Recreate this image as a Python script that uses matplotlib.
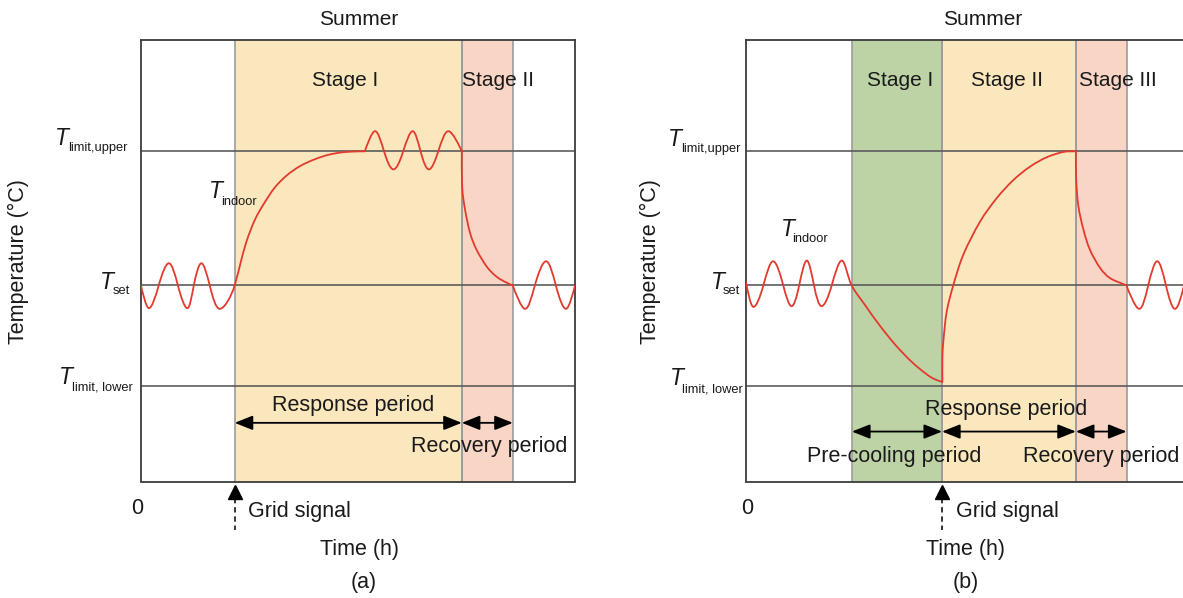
import numpy as np
import matplotlib
matplotlib.use('Agg')
import matplotlib.pyplot as plt
import matplotlib.transforms as mtransforms
from matplotlib.path import Path
from matplotlib.patches import PathPatch

plt.rcParams['font.family'] = ['Liberation Sans', 'DejaVu Sans']

# temperature levels (degC) and time axis (h)
T_UPPER = 28.0
T_SET = 26.0
T_LOWER = 24.5
Y_RANGE = (23.075, 29.66)

# (a) stages: start, end, colour
STAGES_A = [(2.59, 8.87, '#fbe7bd'), (8.87, 10.28, '#f8d5c5')]
SIGNAL_A = 2.59
# (b) stages
STAGES_B = [(2.93, 5.42, '#bdd3a6'), (5.42, 9.12, '#fbe7bd'), (9.12, 10.52, '#f8d5c5')]
SIGNAL_B = 5.42

# indoor temperature, (time, temperature)
A_OSC_START = [(0.00, 26.00), (0.22, 25.66), (0.49, 26.00), (0.77, 26.33), (1.02, 26.00),
               (1.28, 25.66), (1.46, 26.00), (1.67, 26.33), (1.90, 26.00), (2.18, 25.65),
               (2.59, 26.00)]
A_RISE = [(2.75, 26.33), (2.92, 26.66), (3.15, 26.98), (3.40, 27.22), (3.70, 27.46),
          (4.03, 27.64), (4.40, 27.78), (4.80, 27.88), (5.20, 27.95), (5.65, 27.99),
          (6.19, 28.00)]
A_UPPER_OSC = [(6.19, 28.00), (6.47, 28.30), (6.72, 28.00), (6.98, 27.73), (7.25, 28.00),
               (7.51, 28.30), (7.73, 28.00), (7.96, 27.73), (8.22, 28.00), (8.50, 28.30),
               (8.87, 28.00)]
A_DECAY = [(8.87, 28.00), (8.88, 27.47), (8.96, 27.13), (9.10, 26.78), (9.28, 26.53),
           (9.56, 26.28), (9.83, 26.13), (10.11, 26.04), (10.28, 26.00)]
A_OSC_END = [(10.28, 26.00), (10.62, 25.65), (10.89, 26.00), (11.20, 26.36), (11.47, 26.00),
             (11.75, 25.65), (12.00, 26.00)]

B_OSC_START = [(0.00, 26.05), (0.20, 25.68), (0.48, 26.00), (0.75, 26.36), (1.03, 26.00),
               (1.26, 25.69), (1.47, 26.00), (1.68, 26.37), (1.88, 26.00), (2.09, 25.69),
               (2.37, 26.00), (2.65, 26.37)]
B_PRECOOL = [(2.92, 26.00), (3.30, 25.70), (3.70, 25.40), (4.15, 25.10), (4.60, 24.85),
             (4.98, 24.68), (5.18, 24.61), (5.37, 24.57), (5.42, 24.56)]
B_RISE = [(5.43, 24.56), (5.43, 24.92), (5.46, 25.19), (5.55, 25.61), (5.73, 26.00),
          (6.01, 26.46), (6.47, 26.95), (6.93, 27.30), (7.39, 27.57), (7.85, 27.77),
          (8.31, 27.91), (8.77, 27.99), (9.12, 28.00)]
B_DECAY = [(9.12, 28.00), (9.13, 27.57), (9.19, 27.18), (9.33, 26.83), (9.51, 26.53),
           (9.79, 26.26), (10.06, 26.11), (10.43, 26.02), (10.52, 26.00)]
B_OSC_END = [(10.52, 26.00), (10.87, 25.65), (11.12, 26.00), (11.37, 26.36), (11.61, 26.00),
             (11.86, 25.65), (12.11, 26.00), (12.36, 26.36)]

W, H = 1183, 598
fig = plt.figure(figsize=(W / 100, H / 100), dpi=100)
TXT = '#1a1a1a'
RED = '#e23a2e'
WAVE, CURVE = 1.55, 1.0   # vertical tangent factor for wavy / smooth parts


def px_axes(x0, x1, y0, y1):
    return fig.add_axes([x0 / W, 1 - y1 / H, (x1 - x0) / W, (y1 - y0) / H])


def ftext(x, y, s, size=15.5, ha='center', **kw):
    fig.text(x / W, 1 - y / H, s, fontsize=size, ha=ha, va='baseline', color=TXT, **kw)


def tlabel(x, y, sub, xs, ys):
    # italic T plus a small subscript
    ftext(x, y, 'T', size=16.5, ha='left', style='italic')
    ftext(xs, ys, sub, size=9.3, ha='left')


def smooth(parts):
    # catmull-rom through the read points, drawn as cubic bezier
    pts, ty = [], []
    for points, k in parts:
        pts += points
        ty += [k] * len(points)
    p = np.array(pts, dtype=float)
    n = len(p)
    verts = [p[0]]
    codes = [Path.MOVETO]
    for i in range(n - 1):
        p0 = p[max(i - 1, 0)]
        p1 = p[i]
        p2 = p[i + 1]
        p3 = p[min(i + 2, n - 1)]
        t1 = (p2 - p0) / 6 * np.array([1.0, ty[i]])
        t2 = (p3 - p1) / 6 * np.array([1.0, ty[i + 1]])
        verts += [p1 + t1, p2 - t2, p2]
        codes += [Path.CURVE4] * 3
    return Path(verts, codes)


def setup(ax, xmax, stages, pieces, signal):
    ax.set_xlim(0, xmax)
    ax.set_ylim(*Y_RANGE)
    ax.set_xticks([])
    ax.set_yticks([])
    for s in ax.spines.values():
        s.set_color('#3c3c3c')
        s.set_linewidth(1.3)
    for a, b, c in stages:
        ax.axvspan(a, b, color=c, lw=0, zorder=0)
        ax.axvline(a, color='#9c9c9c', lw=1.2, zorder=1)
        ax.axvline(b, color='#9c9c9c', lw=1.2, zorder=1)
    for lev in (T_UPPER, T_SET, T_LOWER):
        ax.axhline(lev, color='#5c5c5c', lw=1.2, zorder=1)
    for parts in pieces:
        ax.add_patch(PathPatch(smooth(parts), fill=False, ec=RED, lw=1.3, zorder=3,
                               joinstyle='round', capstyle='round'))
    # grid signal arrow under the axis
    tr = mtransforms.blended_transform_factory(ax.transData, ax.transAxes)
    ax.plot([signal, signal], [-0.037, -0.11], transform=tr, color='k', lw=1.1,
            ls=(0, (3.5, 2.5)), clip_on=False)
    ax.plot([signal], [-0.0245], transform=tr, marker='^', ms=9.5, color='k',
            clip_on=False, lw=0)


def period_arrow(ax, x0, x1, y):
    ax.annotate('', xy=(x1, y), xytext=(x0, y),
                arrowprops=dict(arrowstyle='<|-|>,head_length=0.55,head_width=0.22',
                                mutation_scale=20, color='k', lw=1.3,
                                shrinkA=0, shrinkB=0), zorder=4)


# ---- (a) ----
axA = px_axes(141, 575, 40, 481.5)
setup(axA, 12, STAGES_A,
      [[(A_OSC_START, WAVE), (A_RISE, CURVE)], [(A_UPPER_OSC, WAVE)],
       [(A_DECAY, CURVE)], [(A_OSC_END, WAVE)]], SIGNAL_A)
y_arr_a = 23.95
period_arrow(axA, STAGES_A[0][0], STAGES_A[0][1], y_arr_a)
period_arrow(axA, STAGES_A[1][0], STAGES_A[1][1], y_arr_a)

# ---- (b) ----
axB = px_axes(746, 746 + 12.3 * 36.17, 40, 481.5)
setup(axB, 12.3, STAGES_B,
      [[(B_OSC_START, WAVE), (B_PRECOOL, CURVE)], [(B_RISE, CURVE)],
       [(B_DECAY, CURVE)], [(B_OSC_END, WAVE)]], SIGNAL_B)
axB.spines['right'].set_visible(False)
y_arr_b = 23.82
for a, b, c in STAGES_B:
    period_arrow(axB, a, b, y_arr_b)

# texts (a)
ftext(359, 25, 'Summer', size=15)
ftext(345, 86, 'Stage I', size=15)
ftext(462, 86, 'Stage II', size=15, ha='left')
ftext(353, 410.5, 'Response period')
ftext(489, 452, 'Recovery period')
ftext(137, 514, '0')
ftext(248, 517, 'Grid signal', ha='left')
ftext(359, 555, 'Time (h)')
ftext(364, 588, '(a)')
fig.text(18 / W, 1 - 261.5 / H, 'Temperature (°C)', rotation=90, fontsize=15.5,
         ha='center', va='center', color=TXT)
tlabel(55, 145, 'limit,upper', 68, 151)
tlabel(100, 289, 'set', 113, 294)
tlabel(59, 384, 'limit, lower', 72, 390)
tlabel(209, 198, 'indoor', 221, 205)

# texts (b)
ftext(983, 25, 'Summer', size=15)
ftext(900.5, 86, 'Stage I', size=15)
ftext(1007, 86, 'Stage II', size=15)
ftext(1079, 86, 'Stage III', size=15, ha='left')
ftext(1006, 415, 'Response period')
ftext(894, 462, 'Pre-cooling period')
ftext(1101, 462, 'Recovery period')
ftext(747, 514, '0')
ftext(956, 517, 'Grid signal', ha='left')
ftext(965, 555, 'Time (h)')
ftext(966, 588, '(b)')
fig.text(650 / W, 1 - 261.5 / H, 'Temperature (°C)', rotation=90, fontsize=15.5,
         ha='center', va='center', color=TXT)
tlabel(668, 146, 'limit,upper', 681, 152)
tlabel(711, 289, 'set', 723, 294)
tlabel(670, 385, 'limit, lower', 682, 392)
tlabel(781, 236, 'indoor', 792, 242)

fig.savefig('out.png', dpi=100)
